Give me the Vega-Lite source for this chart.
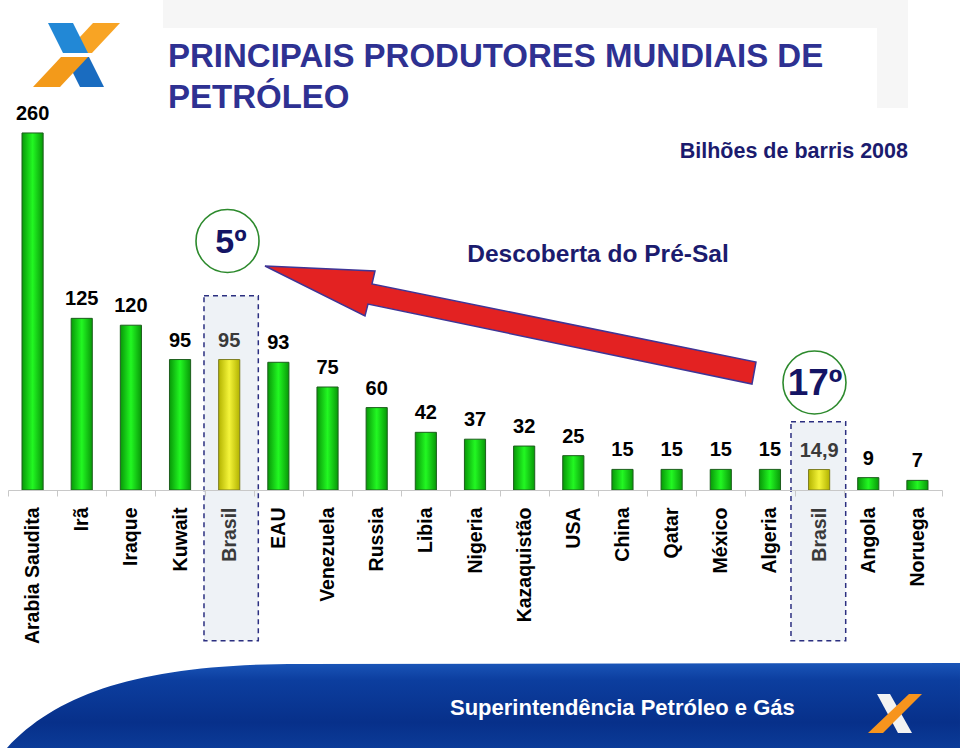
{
  "$schema": "https://vega.github.io/schema/vega-lite/v6.json",
  "width": 934,
  "height": 378,
  "autosize": {"type": "none"},
  "padding": {"left": 8, "top": 112, "right": 18, "bottom": 258},
  "background": "white",
  "config": {
    "view": {"stroke": null},
    "font": "Liberation Sans",
    "text": {"font": "Liberation Sans"},
    "locale": {"number": {"decimal": ",", "thousands": ".", "grouping": [3], "currency": ["R$ ", ""]}}
  },
  "datasets": {
    "paises": [
      {"pais": "Arabia Saudita", "reservas": 260},
      {"pais": "Irã", "reservas": 125},
      {"pais": "Iraque", "reservas": 120},
      {"pais": "Kuwait", "reservas": 95},
      {"pais": "Brasil", "reservas": 95},
      {"pais": "EAU", "reservas": 93},
      {"pais": "Venezuela", "reservas": 75},
      {"pais": "Russia", "reservas": 60},
      {"pais": "Libia", "reservas": 42},
      {"pais": "Nigeria", "reservas": 37},
      {"pais": "Kazaquistão", "reservas": 32},
      {"pais": "USA", "reservas": 25},
      {"pais": "China", "reservas": 15},
      {"pais": "Qatar", "reservas": 15},
      {"pais": "México", "reservas": 15},
      {"pais": "Algeria", "reservas": 15},
      {"pais": "Brasil ", "reservas": 14.9},
      {"pais": "Angola", "reservas": 9},
      {"pais": "Noruega", "reservas": 7}
    ],
    "faixas": [
      {"x": 3.153, "x2": 18.308, "y": 356.8, "y2": 336.4},
      {"x": 17.678, "x2": 18.308, "y": 336.4, "y2": 278.2}
    ],
    "destaques": [
      {"x": 3.987, "x2": 5.092, "y": 141.5, "y2": -109.7},
      {"x": 15.928, "x2": 17.041, "y": 49.7, "y2": -109.7}
    ],
    "rodape": [{"x": 9.6016, "y": -156.93}],
    "logos": [
      {"peca": "rodape_branco", "x": 18.044, "y": -162.76},
      {"peca": "rodape_laranja", "x": 18.044, "y": -162.76},
      {"peca": "laranja_sup", "x": 1.3935, "y": 316.78},
      {"peca": "azul_sup", "x": 1.3935, "y": 316.78},
      {"peca": "azul_inf", "x": 1.3935, "y": 316.78},
      {"peca": "laranja_inf", "x": 1.3935, "y": 316.78}
    ],
    "seta": [{"x": 10.222, "y": 120.16}],
    "circulos": [
      {"rotulo": "5º", "x": 4.4653, "y": 181.33},
      {"rotulo": "17º", "x": 16.406, "y": 78.28}
    ],
    "textos": [
      {"tipo": "titulo", "texto": "PRINCIPAIS PRODUTORES MUNDIAIS DE", "x": 3.255, "y": 308.04},
      {"tipo": "titulo", "texto": "PETRÓLEO", "x": 3.255, "y": 278.18},
      {"tipo": "unidade", "texto": "Bilhões de barris 2008", "x": 18.308, "y": 246.1},
      {"tipo": "evento", "texto": "Descoberta do Pré-Sal", "x": 12.002, "y": 171.13},
      {"tipo": "pos5", "texto": "5º", "x": 4.536, "y": 179.9},
      {"tipo": "pos17", "texto": "17º", "x": 16.417, "y": 77.2},
      {"tipo": "rodape", "texto": "Superintendência Petróleo e Gás", "x": 8.991, "y": -158.75}
    ]
  },
  "resolve": {"scale": {"x": "independent"}},
  "layer": [
    {
      "data": {"name": "faixas"},
      "mark": {"type": "rect", "fill": "#f6f6f6"},
      "encoding": {
        "x": {"field": "x", "type": "quantitative", "scale": {"domain": [0, 19], "nice": false, "zero": false}, "axis": null},
        "x2": {"field": "x2"},
        "y": {"field": "y", "type": "quantitative", "scale": {"domain": [0, 275.27], "nice": false, "zero": false}, "axis": null},
        "y2": {"field": "y2"}
      }
    },
    {
      "data": {"name": "destaques"},
      "mark": {"type": "rect", "fill": "#eef2f6", "stroke": "#2b2f80", "strokeWidth": 1.5, "strokeDash": [5, 4]},
      "encoding": {
        "x": {"field": "x", "type": "quantitative", "scale": {"domain": [0, 19], "nice": false, "zero": false}, "axis": null},
        "x2": {"field": "x2"},
        "y": {"field": "y", "type": "quantitative", "scale": {"domain": [0, 275.27], "nice": false, "zero": false}, "axis": null},
        "y2": {"field": "y2"}
      }
    },
    {
      "data": {"name": "rodape"},
      "mark": {
        "type": "point",
        "shape": "M-0.9854,0.0885 C-0.875,-0.0323 -0.6875,-0.0865 -0.375,-0.0865 L1,-0.0885 L1,0.0885 Z",
        "size": 921600,
        "filled": true,
        "opacity": 1,
        "strokeWidth": 0,
        "fill": {"gradient": "linear", "x1": 0, "y1": 0, "x2": 0, "y2": 1, "stops": [{"offset": 0, "color": "#1a55b8"}, {"offset": 0.2, "color": "#0c3e9f"}, {"offset": 0.7, "color": "#07308a"}, {"offset": 1, "color": "#0b3b98"}]}
      },
      "encoding": {
        "x": {"field": "x", "type": "quantitative", "scale": {"domain": [0, 19], "nice": false, "zero": false}, "axis": null},
        "y": {"field": "y", "type": "quantitative", "scale": {"domain": [0, 275.27], "nice": false, "zero": false}, "axis": null}
      }
    },
    {
      "data": {"name": "logos"},
      "mark": {"type": "point", "size": 8100, "filled": true, "opacity": 1, "strokeWidth": 0},
      "encoding": {
        "x": {"field": "x", "type": "quantitative", "scale": {"domain": [0, 19], "nice": false, "zero": false}, "axis": null},
        "y": {"field": "y", "type": "quantitative", "scale": {"domain": [0, 275.27], "nice": false, "zero": false}, "axis": null},
        "shape": {
          "field": "peca", "type": "nominal", "legend": null,
          "scale": {
            "domain": ["rodape_branco", "rodape_laranja", "laranja_sup", "azul_sup", "azul_inf", "laranja_inf"],
            "range": [
              "M-0.4,-0.4333 L-0.1111,-0.4333 L0.3778,0.4333 L0.0667,0.4333 Z",
              "M0.3111,-0.4333 L0.6,-0.4333 L-0.2667,0.4333 L-0.6,0.4333 Z",
              "M0.367,-0.711 L0.967,-0.711 L0.344,-0.044 L-0.256,-0.044 Z",
              "M-0.633,-0.711 L-0.078,-0.711 L0.256,-0.044 L-0.3,-0.044 Z",
              "M-0.256,0.044 L0.278,0.044 L0.611,0.711 L0.078,0.711 Z",
              "M-0.344,0.044 L0.256,0.044 L-0.367,0.711 L-0.967,0.711 Z"
            ]
          }
        },
        "fill": {
          "field": "peca", "type": "nominal", "legend": null,
          "scale": {
            "domain": ["rodape_branco", "rodape_laranja", "laranja_sup", "azul_sup", "azul_inf", "laranja_inf"],
            "range": ["#f2f2f2", "#f7941d", "#f8a424", "#2288d6", "#1a6cc0", "#f39a1a"]
          }
        }
      }
    },
    {
      "data": {"name": "seta"},
      "mark": {
        "type": "point",
        "shape": "M-1,-0.2403 L-0.5519,-0.22 L-0.5642,-0.167 L1,0.1507 L0.9837,0.2403 L-0.5804,-0.0855 L-0.5927,-0.0367 Z",
        "size": 241081,
        "filled": true,
        "opacity": 1,
        "fill": "#e32222",
        "stroke": "#3f3596",
        "strokeWidth": 1.5
      },
      "encoding": {
        "x": {"field": "x", "type": "quantitative", "scale": {"domain": [0, 19], "nice": false, "zero": false}, "axis": null},
        "y": {"field": "y", "type": "quantitative", "scale": {"domain": [0, 275.27], "nice": false, "zero": false}, "axis": null}
      }
    },
    {
      "data": {"name": "circulos"},
      "mark": {"type": "point", "shape": "circle", "size": 3969, "filled": false, "opacity": 1, "stroke": "#2d8a2d", "strokeWidth": 1.6},
      "encoding": {
        "x": {"field": "x", "type": "quantitative", "scale": {"domain": [0, 19], "nice": false, "zero": false}, "axis": null},
        "y": {"field": "y", "type": "quantitative", "scale": {"domain": [0, 275.27], "nice": false, "zero": false}, "axis": null}
      }
    },
    {
      "data": {"name": "paises"},
      "mark": {"type": "bar", "width": {"band": 0.43}, "strokeWidth": 1},
      "encoding": {
        "x": {
          "field": "pais", "type": "nominal", "sort": null,
          "scale": {"paddingInner": 0, "paddingOuter": 0},
          "axis": {
            "title": null,
            "labelAngle": -90,
            "labelAlign": "right",
            "labelBaseline": "middle",
            "labelFont": "Liberation Sans",
            "labelFontSize": 19.5,
            "labelFontWeight": "bold",
            "labelExpr": "isValid(datum.value) ? trim(datum.value) : ''",
            "labelColor": {"condition": {"test": "isValid(datum.value) && trim(datum.value) === 'Brasil'", "value": "#3a3a3a"}, "value": "#000000"},
            "labelPadding": 11,
            "labelOverlap": false,
            "labelLimit": 0,
            "tickBand": "extent",
            "tickSize": 6,
            "tickColor": "#c8c8c8",
            "domainColor": "#c8c8c8",
            "zindex": 1
          }
        },
        "y": {"field": "reservas", "type": "quantitative", "scale": {"domain": [0, 275.27], "nice": false, "zero": false}, "axis": null},
        "fill": {
          "condition": {
            "test": "trim(datum.pais) === 'Brasil'",
            "value": {"gradient": "linear", "x1": 0, "y1": 0, "x2": 1, "y2": 0, "stops": [{"offset": 0, "color": "#b3b300"}, {"offset": 0.5, "color": "#f4f43a"}, {"offset": 1, "color": "#b3b300"}]}
          },
          "value": {"gradient": "linear", "x1": 0, "y1": 0, "x2": 1, "y2": 0, "stops": [{"offset": 0, "color": "#089808"}, {"offset": 0.5, "color": "#22f822"}, {"offset": 1, "color": "#089808"}]}
        },
        "stroke": {"condition": {"test": "trim(datum.pais) === 'Brasil'", "value": "#7d7d20"}, "value": "#1d5e1d"}
      }
    },
    {
      "data": {"name": "paises"},
      "mark": {"type": "text", "fontSize": 20, "fontWeight": "bold", "baseline": "middle", "dy": -19},
      "encoding": {
        "x": {"field": "pais", "type": "nominal", "sort": null, "scale": {"paddingInner": 0, "paddingOuter": 0}, "axis": null},
        "y": {"field": "reservas", "type": "quantitative", "scale": {"domain": [0, 275.27], "nice": false, "zero": false}, "axis": null},
        "text": {"field": "reservas", "type": "quantitative", "format": ".3~r"},
        "color": {"condition": {"test": "trim(datum.pais) === 'Brasil'", "value": "#3a3a3a"}, "value": "#000000"}
      }
    },
    {
      "data": {"name": "textos"},
      "transform": [{"filter": "datum.tipo === 'titulo'"}],
      "mark": {"type": "text", "fontSize": 33, "fontWeight": "bold", "align": "left", "baseline": "alphabetic", "color": "#2e3192"},
      "encoding": {
        "x": {"field": "x", "type": "quantitative", "scale": {"domain": [0, 19], "nice": false, "zero": false}, "axis": null},
        "y": {"field": "y", "type": "quantitative", "scale": {"domain": [0, 275.27], "nice": false, "zero": false}, "axis": null},
        "text": {"field": "texto", "type": "nominal"}
      }
    },
    {
      "data": {"name": "textos"},
      "transform": [{"filter": "datum.tipo === 'unidade'"}],
      "mark": {"type": "text", "fontSize": 21.5, "fontWeight": "bold", "align": "right", "baseline": "middle", "color": "#1b1b6e"},
      "encoding": {
        "x": {"field": "x", "type": "quantitative", "scale": {"domain": [0, 19], "nice": false, "zero": false}, "axis": null},
        "y": {"field": "y", "type": "quantitative", "scale": {"domain": [0, 275.27], "nice": false, "zero": false}, "axis": null},
        "text": {"field": "texto", "type": "nominal"}
      }
    },
    {
      "data": {"name": "textos"},
      "transform": [{"filter": "datum.tipo === 'evento'"}],
      "mark": {"type": "text", "fontSize": 24.5, "fontWeight": "bold", "align": "center", "baseline": "middle", "color": "#1b1b6e"},
      "encoding": {
        "x": {"field": "x", "type": "quantitative", "scale": {"domain": [0, 19], "nice": false, "zero": false}, "axis": null},
        "y": {"field": "y", "type": "quantitative", "scale": {"domain": [0, 275.27], "nice": false, "zero": false}, "axis": null},
        "text": {"field": "texto", "type": "nominal"}
      }
    },
    {
      "data": {"name": "textos"},
      "transform": [{"filter": "datum.tipo === 'pos5'"}],
      "mark": {"type": "text", "fontSize": 34, "fontWeight": "bold", "align": "center", "baseline": "middle", "color": "#141464"},
      "encoding": {
        "x": {"field": "x", "type": "quantitative", "scale": {"domain": [0, 19], "nice": false, "zero": false}, "axis": null},
        "y": {"field": "y", "type": "quantitative", "scale": {"domain": [0, 275.27], "nice": false, "zero": false}, "axis": null},
        "text": {"field": "texto", "type": "nominal"}
      }
    },
    {
      "data": {"name": "textos"},
      "transform": [{"filter": "datum.tipo === 'pos17'"}],
      "mark": {"type": "text", "fontSize": 37, "fontWeight": "bold", "align": "center", "baseline": "middle", "color": "#141464"},
      "encoding": {
        "x": {"field": "x", "type": "quantitative", "scale": {"domain": [0, 19], "nice": false, "zero": false}, "axis": null},
        "y": {"field": "y", "type": "quantitative", "scale": {"domain": [0, 275.27], "nice": false, "zero": false}, "axis": null},
        "text": {"field": "texto", "type": "nominal"}
      }
    },
    {
      "data": {"name": "textos"},
      "transform": [{"filter": "datum.tipo === 'rodape'"}],
      "mark": {"type": "text", "fontSize": 22, "fontWeight": "bold", "align": "left", "baseline": "middle", "color": "#ffffff"},
      "encoding": {
        "x": {"field": "x", "type": "quantitative", "scale": {"domain": [0, 19], "nice": false, "zero": false}, "axis": null},
        "y": {"field": "y", "type": "quantitative", "scale": {"domain": [0, 275.27], "nice": false, "zero": false}, "axis": null},
        "text": {"field": "texto", "type": "nominal"}
      }
    }
  ]
}
